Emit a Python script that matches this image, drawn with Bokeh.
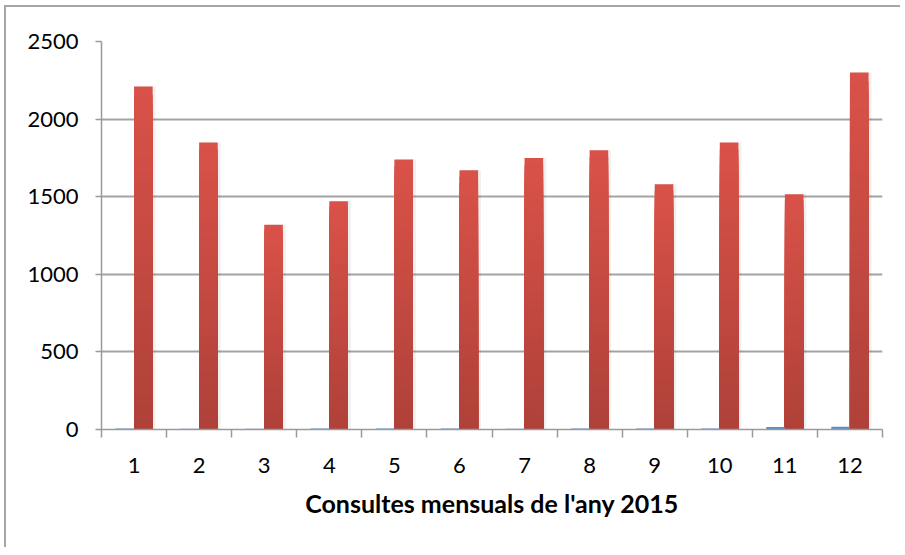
from bokeh.plotting import figure
from bokeh.models import FixedTicker, Range1d, ColumnDataSource
from bokeh.embed import file_html
from bokeh.resources import INLINE

# ---- data ----
months = [1, 2, 3, 4, 5, 6, 7, 8, 9, 10, 11, 12]
month_labels = ["1", "2", "3", "4", "5", "6", "7", "8", "9", "10", "11", "12"]
consultes = [2210, 1850, 1320, 1470, 1740, 1670, 1750, 1800, 1580, 1850, 1515, 2300]
altres = [6, 5, 5, 6, 6, 6, 5, 6, 6, 7, 16, 17]
y_ticks = [0, 500, 1000, 1500, 2000, 2500]
x_title = "Consultes mensuals de l'any 2015"

FONT = "Lato"
BAR_W = 0.286
OFF = 0.143

p = figure(width=896, height=542, x_range=Range1d(0.5, 12.5), y_range=Range1d(0, 2500),
           output_backend="svg", toolbar_location=None,
           min_border_left=95, min_border_right=20, min_border_top=34, min_border_bottom=120)
p.margin = (5, 0, 0, 4)
p.styles = {"border-left": "2px solid #a6a6a6", "border-top": "2px solid #a6a6a6"}
p.outline_line_color = None
p.background_fill_color = "white"
p.border_fill_color = "white"

# soft shadow
shadow = ColumnDataSource(dict(x=[m + OFF + 0.045 for m in months], top=consultes))
p.vbar(x="x", top="top", bottom=0, width=BAR_W, source=shadow,
       fill_color="black", fill_alpha=0.06, line_color=None)

# gradient bars: overlapping bars from 0, drawn tallest first, light at top, dark at bottom
top_c = (218, 82, 73)
bot_c = (174, 65, 57)
N = 40
xs, tops, cols = [], [], []
for k in range(N - 1, -1, -1):
    t = (k + 0.5) / N
    c = "#%02x%02x%02x" % tuple(int(round(bot_c[j] + (top_c[j] - bot_c[j]) * t)) for j in range(3))
    for m, v in zip(months, consultes):
        xs.append(m + OFF)
        tops.append(v * (k + 1) / N)
        cols.append(c)

seg = ColumnDataSource(dict(x=xs, top=tops, color=cols))
p.vbar(x="x", bottom=0, top="top", width=BAR_W, source=seg,
       fill_color="color", line_color=None)

blue = ColumnDataSource(dict(x=[m - OFF for m in months], top=altres))
p.vbar(x="x", top="top", bottom=0, width=BAR_W, source=blue,
       fill_color="#5a8cc8", line_color=None)

# axes
p.xaxis.ticker = FixedTicker(ticks=months, minor_ticks=[m - 0.5 for m in months] + [12.5])
p.xaxis.major_label_overrides = {m: l for m, l in zip(months, month_labels)}
p.xaxis.major_tick_out = 0
p.xaxis.major_tick_in = 0
p.xaxis.minor_tick_out = 8
p.xaxis.minor_tick_in = 0
p.xaxis.minor_tick_line_color = "#9a9a9a"
p.xaxis.minor_tick_line_width = 1.5
p.xaxis.major_label_standoff = 20
p.xaxis.axis_label = x_title
p.xaxis.axis_label_standoff = 12
p.xaxis.axis_label_text_font = FONT
p.xaxis.axis_label_text_font_size = "25px"
p.xaxis.axis_label_text_font_style = "bold"
p.xaxis.axis_label_text_color = "black"

p.yaxis.ticker = FixedTicker(ticks=y_ticks)
p.yaxis.minor_tick_line_color = None
p.yaxis.major_tick_out = 6
p.yaxis.major_tick_in = 0
p.yaxis.major_tick_line_color = "#9a9a9a"
p.yaxis.major_tick_line_width = 1.5
p.yaxis.major_label_standoff = 17

for ax in (p.xaxis, p.yaxis):
    ax.axis_line_color = "#9a9a9a"
    ax.axis_line_width = 1.5
    ax.major_label_text_font = FONT
    ax.major_label_text_font_size = "22px"
    ax.major_label_text_color = "black"

p.xgrid.grid_line_color = None
p.ygrid.grid_line_color = "#a3a3a3"
p.ygrid.grid_line_width = 2

open("out.html", "w").write(file_html(p, INLINE))
